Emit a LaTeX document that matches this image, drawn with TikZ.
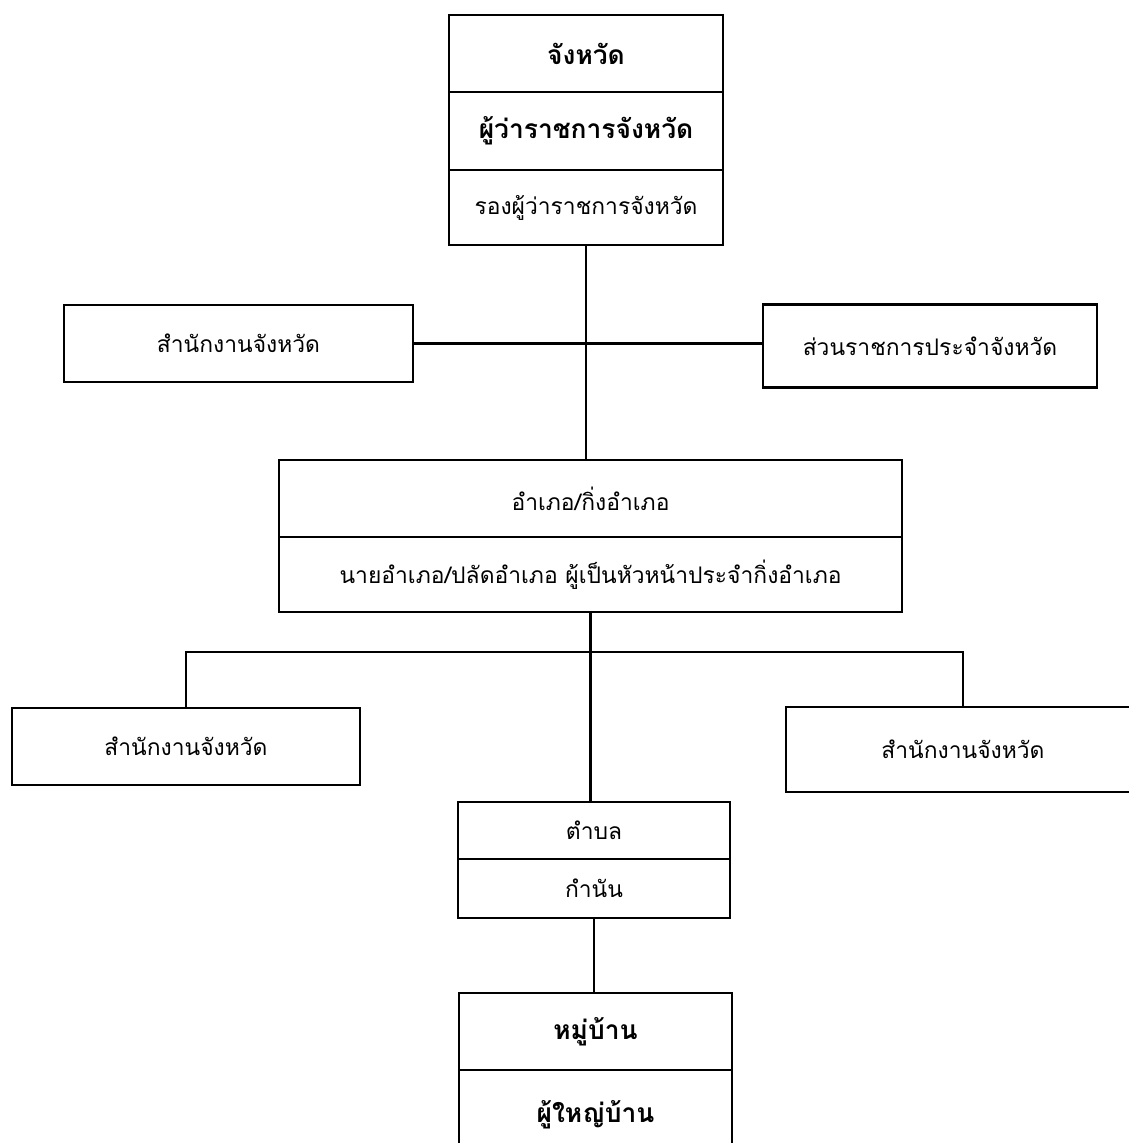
\documentclass[tikz,border=0pt]{standalone}
\usepackage{fontspec}
\newfontfamily\thaifont[Script=Thai]{Loma}
\usepackage{tikz}
\usetikzlibrary{calc}
\tikzstyle{cell} = [draw, line width=1.3pt, inner sep=0pt,
    font=\thaifont\fontsize{13}{15}\selectfont]
\tikzstyle{headcell} = [cell, font=\thaifont\bfseries\fontsize{15}{17}\selectfont]
\tikzset{link/.style={line width=1.3pt}}

\begin{document}
\begin{tikzpicture}[x=0.2mm, y=-0.2mm]
\useasboundingbox (0,0) rectangle (1129,1143);
\clip (0,0) rectangle (1129,1143);
    %province
    \node[headcell, minimum width=5.48cm, minimum height=1.54cm] (prov1) at (586, 53.5) {จังหวัด};
    \node[headcell, minimum width=5.48cm, minimum height=1.56cm] (prov2) at (586, 131) {ผู้ว่าราชการจังหวัด};
    \node[cell, minimum width=5.48cm, minimum height=1.5cm] (prov3) at (586, 207.5) {รองผู้ว่าราชการจังหวัด};
    \node[cell, minimum width=6.98cm, minimum height=1.54cm] (off1) at (238.5, 343.5) {สำนักงานจังหวัด};
    \node[cell, minimum width=6.68cm, minimum height=1.66cm] (sec) at (930, 346) {ส่วนราชการประจำจังหวัด};
    %district
    \node[cell, minimum width=12.46cm, minimum height=1.54cm] (amp1) at (590.5, 498.5) {อำเภอ/กิ่งอำเภอ};
    \node[cell, minimum width=12.46cm, minimum height=1.5cm] (amp2) at (590.5, 574.5) {นายอำเภอ/ปลัดอำเภอ ผู้เป็นหัวหน้าประจำกิ่งอำเภอ};
    \node[cell, minimum width=6.96cm, minimum height=1.54cm] (off2) at (186, 746.5) {สำนักงานจังหวัด};
    \node[cell, minimum width=7.08cm, minimum height=1.7cm] (off3) at (963, 749.5) {สำนักงานจังหวัด};
    %subdistrict and village
    \node[cell, minimum width=5.44cm, minimum height=1.14cm] (tam1) at (594, 830.5) {ตำบล};
    \node[cell, minimum width=5.44cm, minimum height=1.18cm] (tam2) at (594, 888.5) {กำนัน};
    \node[headcell, minimum width=5.46cm, minimum height=1.54cm] (mu1) at (595.5, 1031.5) {หมู่บ้าน};
    \node[headcell, minimum width=5.46cm, minimum height=1.8cm] (mu2) at (595.5, 1115) {ผู้ใหญ่บ้าน};
    \coordinate (bus) at (591, 652);
    %lines
    \draw[link] (prov3.south) -- (prov3.south |- amp1.north);
    \draw[link] (off1.east) -- (sec.west |- off1.east);
    \draw[link] (amp2.south) -- (amp2.south |- tam1.north);
    \draw[link] (off2.north) |- (bus) -| (off3.north);
    \draw[link] (tam2.south) -- (tam2.south |- mu1.north);
\end{tikzpicture}
\end{document}
